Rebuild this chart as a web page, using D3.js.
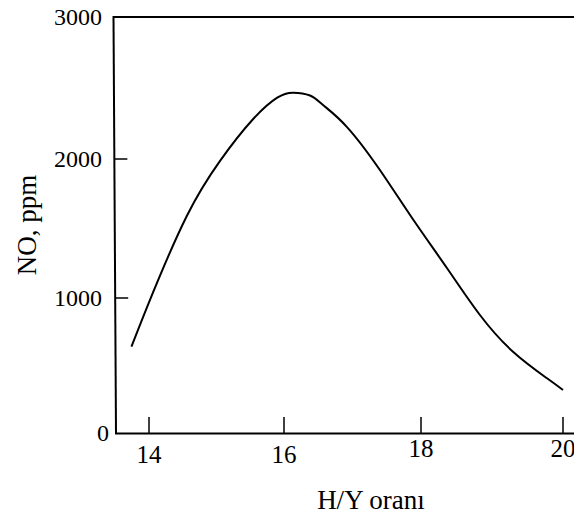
<!DOCTYPE html>
<html>
<head>
<meta charset="utf-8">
<script src="https://cdn.jsdelivr.net/npm/d3@7"></script>
<style>
  html, body { margin: 0; padding: 0; background: #fff; }
  svg { display: block; }
  text { font-family: "Liberation Serif", "Times New Roman", serif; fill: #000; }
</style>
</head>
<body>
<svg id="chart" width="574" height="516"></svg>
<script>
// H/Y ratio (air/fuel) vs NO emission
const ratio = [13.74, 14.06, 14.56, 15.05, 15.54, 15.90, 16.13, 16.38, 16.57, 16.92, 17.40, 17.88, 18.37, 18.83, 19.30, 19.77, 20.0];
const noPpm = [639, 1040, 1590, 1985, 2280, 2432, 2467, 2447, 2380, 2225, 1921, 1568, 1212, 874, 600, 407, 319];

const xTicks = [14, 16, 18, 20];
const yTicks = [0, 1000, 2000, 3000];
const xTitle = "H/Y oranı";
const yTitle = "NO, ppm";

const svg = d3.select("#chart");

// hand-drawn axes: tick spacing is slightly uneven
const x = d3.scaleLinear().domain(xTicks).range([149, 284, 421, 563]);
const y = d3.scaleLinear().domain(yTicks).range([433, 298, 159, 17]);

const ink = "#000";
// left axis leans a little: x position at a given height
const axisX = py => 113.5 + (py - 17) / 416 * 2.5;

// frame: top border, left axis, bottom axis
svg.append("line").attr("x1", 113.5).attr("y1", 17).attr("x2", 574).attr("y2", 17)
  .attr("stroke", ink).attr("stroke-width", 2);
svg.append("line").attr("x1", axisX(16)).attr("y1", 16).attr("x2", axisX(434)).attr("y2", 434)
  .attr("stroke", ink).attr("stroke-width", 2);
svg.append("line").attr("x1", 115).attr("y1", 433.5).attr("x2", 574).attr("y2", 433.5)
  .attr("stroke", ink).attr("stroke-width", 2);

// x ticks (pointing up into the plot)
const xg = svg.append("g");
xg.selectAll("line").data(xTicks).join("line")
  .attr("x1", d => x(d)).attr("x2", d => x(d))
  .attr("y1", 433).attr("y2", 417)
  .attr("stroke", ink).attr("stroke-width", 1.5);
xg.selectAll("text").data(xTicks).join("text")
  .attr("x", d => x(d))
  .attr("y", d => d < 17 ? 463 : 457)
  .attr("text-anchor", "middle")
  .attr("font-size", 25)
  .text(d => d);

// y ticks (pointing right into the plot)
const yg = svg.append("g");
yg.selectAll("line").data(yTicks.filter(d => d > 0 && d < 3000)).join("line")
  .attr("x1", d => axisX(y(d))).attr("x2", d => axisX(y(d)) + 13)
  .attr("y1", d => y(d)).attr("y2", d => y(d))
  .attr("stroke", ink).attr("stroke-width", 1.5);
yg.selectAll("text").data(yTicks).join("text")
  .attr("x", d => d === 0 ? 109 : 102)
  .attr("y", d => y(d))
  .attr("dy", "0.35em")
  .attr("text-anchor", "end")
  .attr("font-size", 24)
  .text(d => d);

// NO curve
const line = d3.line()
  .x((d, i) => x(ratio[i]))
  .y(d => y(d))
  .curve(d3.curveNatural);
svg.append("path")
  .attr("d", line(noPpm))
  .attr("fill", "none")
  .attr("stroke", ink)
  .attr("stroke-width", 2);

// axis titles
svg.append("text")
  .attr("x", 371).attr("y", 509)
  .attr("text-anchor", "middle")
  .attr("font-size", 27)
  .text(xTitle);
svg.append("text")
  .attr("transform", "translate(36,225) rotate(-90)")
  .attr("text-anchor", "middle")
  .attr("font-size", 27)
  .text(yTitle);
</script>
</body>
</html>
